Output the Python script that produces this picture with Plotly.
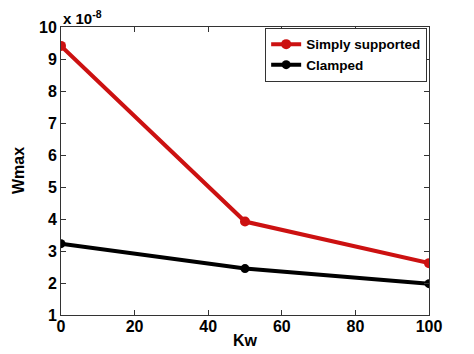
import plotly.graph_objects as go

kw = [0, 50, 100]
simply_supported = [9.41, 3.92, 2.62]
clamped = [3.23, 2.45, 1.98]
x_ticks = [0, 20, 40, 60, 80, 100]
y_ticks = [1, 2, 3, 4, 5, 6, 7, 8, 9, 10]

FAM = "Liberation Sans, Arial, sans-serif"
font = dict(family=FAM, size=15, color="black", weight="bold")

fig = go.Figure()
fig.add_trace(go.Scatter(x=kw, y=simply_supported, mode="lines+markers", name="Simply supported",
                         line=dict(color="#cc1111", width=4), marker=dict(color="#cc1111", size=10)))
fig.add_trace(go.Scatter(x=kw, y=clamped, mode="lines+markers", name="Clamped",
                         line=dict(color="black", width=4), marker=dict(color="black", size=9)))

axis_common = dict(showgrid=False, zeroline=False, showline=True, linecolor="#333",
                   linewidth=1, mirror="ticks", ticks="inside", ticklen=5, tickcolor="#333",
                   automargin=False,
                   tickfont=dict(family=FAM, size=16, color="black", weight="bold"))

fig.update_layout(
    width=474, height=354, margin=dict(l=61, r=45, t=27, b=39),
    paper_bgcolor="white", plot_bgcolor="white", font=font,
    xaxis=dict(range=[0, 100], tickvals=x_ticks, ticklabelstandoff=-3, **axis_common),
    yaxis=dict(range=[1, 10], tickvals=y_ticks, **axis_common),
    legend=dict(x=0.995, y=0.997, xanchor="right", yanchor="top", bgcolor="white",
                bordercolor="#333", borderwidth=1, font=dict(family=FAM, size=13.5, weight="bold"),
                tracegroupgap=0, itemwidth=30),
    showlegend=True,
)
fig.add_annotation(xref="paper", yref="paper", x=0, y=1, xanchor="left", yanchor="bottom",
                   text="x 10<sup>-8</sup>", showarrow=False, yshift=-2,
                   font=dict(family=FAM, size=15, weight="bold"))
fig.add_annotation(xref="paper", yref="paper", x=0.5, y=0, yanchor="middle",
                   text="Kw", showarrow=False, yshift=-25,
                   font=dict(family=FAM, size=16, weight="bold"))
fig.add_annotation(xref="paper", yref="paper", x=0, y=0.5, xanchor="center",
                   text="Wmax", showarrow=False, xshift=-43, textangle=-90,
                   font=dict(family=FAM, size=16, weight="bold"))
fig.write_html("out.html")
